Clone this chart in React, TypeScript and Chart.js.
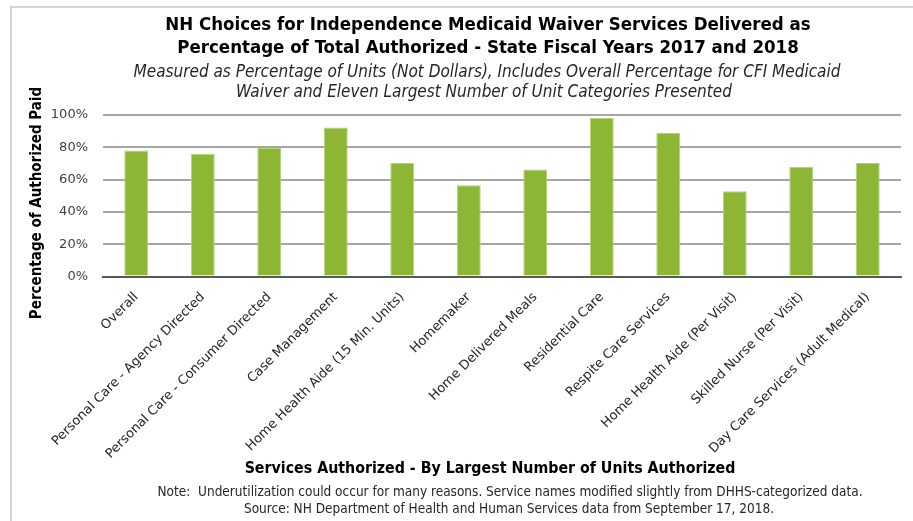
import React, { useEffect, useRef } from 'react';
import { Chart, registerables } from 'chart.js';

Chart.register(...registerables);

// ---------- data ----------
const categories = [
  'Overall',
  'Personal Care - Agency Directed',
  'Personal Care - Consumer Directed',
  'Case Management',
  'Home Health Aide (15 Min. Units)',
  'Homemaker',
  'Home Delivered Meals',
  'Residential Care',
  'Respite Care Services',
  'Home Health Aide (Per Visit)',
  'Skilled Nurse (Per Visit)',
  'Day Care Services (Adult Medical)',
];
const percentPaid = [78, 76, 79.5, 92.3, 70.3, 56.5, 66.3, 98.3, 88.8, 52.8, 68, 70.3];
const yTickValues = [0, 20, 40, 60, 80, 100];

const titleLines = [
  'NH Choices for Independence Medicaid Waiver Services Delivered as',
  'Percentage of Total Authorized - State Fiscal Years 2017 and 2018',
];
const subtitleLines = [
  'Measured as Percentage of Units (Not Dollars), Includes Overall Percentage for CFI Medicaid',
  'Waiver and Eleven Largest Number of Unit Categories Presented',
];
const xAxisTitle = 'Services Authorized - By Largest Number of Units Authorized';
const yAxisTitle = 'Percentage of Authorized Paid';
const noteLines = [
  'Note:  Underutilization could occur for many reasons. Service names modified slightly from DHHS-categorized data.',
  'Source: NH Department of Health and Human Services data from September 17, 2018.',
];

const COND = '"DejaVu Sans Condensed", "Liberation Sans Narrow", "DejaVu Sans", sans-serif';
const BASE = '"DejaVu Sans", "Liberation Sans", sans-serif';

const textPlugin = {
  id: 'externalTexts',
  afterDraw(chart: any) {
    const ctx = chart.ctx as CanvasRenderingContext2D;
    ctx.save();
    // frame
    ctx.strokeStyle = '#d6d6d6';
    ctx.lineWidth = 2;
    ctx.beginPath();
    ctx.moveTo(11, chart.height);
    ctx.lineTo(11, 7);
    ctx.lineTo(chart.width, 7);
    ctx.stroke();

    ctx.textAlign = 'center';
    ctx.textBaseline = 'middle';
    ctx.fillStyle = '#000000';
    ctx.font = `bold 18.5px ${COND}`;
    ctx.fillText(titleLines[0], 488, 25);
    ctx.fillText(titleLines[1], 488, 48);

    ctx.fillStyle = '#262626';
    ctx.font = `italic 17px ${COND}`;
    ctx.fillText(subtitleLines[0], 487, 73);
    ctx.fillText(subtitleLines[1], 484, 93);

    ctx.fillStyle = '#000000';
    ctx.font = `bold 15.8px ${COND}`;
    ctx.fillText(xAxisTitle, 490, 469);

    ctx.fillStyle = '#262626';
    ctx.font = `13.5px ${COND}`;
    ctx.fillText(noteLines[0], 510, 492);
    ctx.fillText(noteLines[1], 509, 509);

    // y axis title
    ctx.save();
    ctx.translate(37, 203);
    ctx.rotate(-Math.PI / 2);
    ctx.fillStyle = '#000000';
    ctx.font = `bold 15px ${COND}`;
    ctx.fillText(yAxisTitle, 0, 0);
    ctx.restore();
    ctx.restore();
  },
};

export default function App() {
  const canvasRef = useRef<HTMLCanvasElement | null>(null);

  useEffect(() => {
    document.body.style.margin = '0';
    const canvas = canvasRef.current;
    if (!canvas) return;
    const chart = new Chart(canvas, {
      type: 'bar',
      data: {
        labels: categories,
        datasets: [
          {
            data: percentPaid,
            backgroundColor: '#8cb634',
            borderColor: '#b3d27a',
            borderWidth: 1,
            barPercentage: 0.36,
            categoryPercentage: 1,
          },
        ],
      },
      options: {
        responsive: false,
        animation: false,
        devicePixelRatio: 1,
        layout: { padding: { top: 115, right: 12, left: 0, bottom: 0 } },
        plugins: {
          legend: { display: false },
          tooltip: { enabled: false },
          title: { display: false },
        },
        scales: {
          x: {
            grid: { display: false },
            border: { display: true, color: '#595959', width: 2 },
            ticks: {
              autoSkip: false,
              minRotation: 45,
              maxRotation: 45,
              padding: 5,
              color: '#262626',
              font: { family: BASE, size: 13 },
            },
            afterFit: (s: any) => {
              s.height = 244.5;
            },
          },
          y: {
            min: 0,
            max: 100,
            afterBuildTicks: (s: any) => {
              s.ticks = yTickValues.map((v) => ({ value: v }));
            },
            grid: {
              drawTicks: false,
              lineWidth: 2,
              color: (c: any) => (c.tick && c.tick.value === 0 ? '#595959' : '#a6a6a6'),
            },
            border: { display: false },
            ticks: {
              padding: 15,
              color: '#404040',
              font: { family: BASE, size: 13 },
              callback: (v: any) => `${v}%`,
            },
            afterFit: (s: any) => {
              s.width = 103;
            },
          },
        },
      },
      plugins: [textPlugin],
    });
    return () => chart.destroy();
  }, []);

  return (
    <div style={{ width: 913, height: 521, background: '#ffffff' }}>
      <canvas ref={canvasRef} width={913} height={521} style={{ display: 'block' }} />
    </div>
  );
}
